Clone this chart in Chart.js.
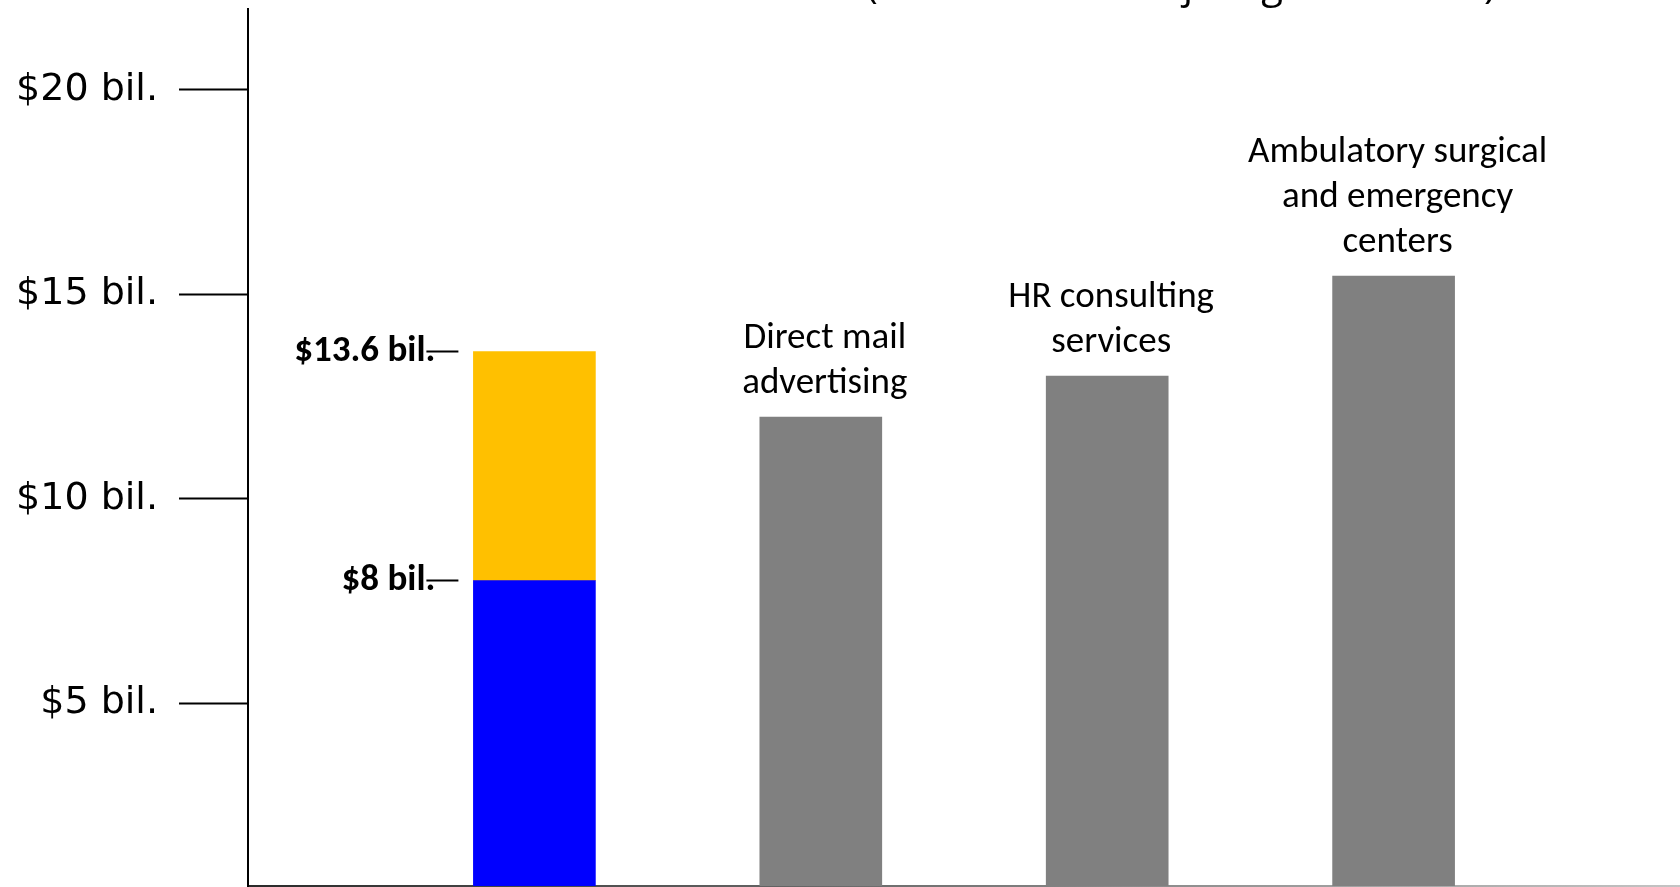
<!DOCTYPE html>
<html>
<head>
<meta charset="utf-8">
<script src="https://cdn.jsdelivr.net/npm/chart.js@4"></script>
<style>
  html, body { margin: 0; padding: 0; background: #fff; overflow: hidden; }
  canvas { display: block; }
</style>
</head>
<body>
<canvas id="grafico" width="1680" height="887"></canvas>
<script>
// Dados do gráfico
const categorias = [
  [],
  ["Direct mail", "advertising"],
  ["HR consulting", "services"],
  ["Ambulatory surgical", "and emergency", "centers"]
];
const valorBase = 8;       // parte azul da barra empilhada
const valorTotal = 13.6;   // topo da barra empilhada
const valoresCinza = [null, 12.0, 13.0, 15.45];
const ticksY = [5, 10, 15, 20];
const rotulosTicks = ["$5 bil.", "$10 bil.", "$15 bil.", "$20 bil."];
const rotulosPilha = ["$8 bil.", "$13.6 bil."];
// restos do título (só as descendentes aparecem no topo)
const fragmentosTitulo = [["(", 872], ["j", 1188], ["g", 1272], [")", 1490]];

// uma categoria vazia em cada ponta para espaçar as barras
const pad = arr => [null, ...arr, null];
const labelsX = ["", ...categorias.map(c => c.join(" ")), ""];

const canvas = document.getElementById("grafico");
const ctx = canvas.getContext("2d");

// linha de base que clareia para a direita
const gradienteBase = ctx.createLinearGradient(248, 0, 1680, 0);
gradienteBase.addColorStop(0, "#2a2a2a");
gradienteBase.addColorStop(1, "#c4c4c4");

const fonteCategoria = "Carlito, Calibri, Lato, sans-serif";

// tira o espaço extra que o Chart.js reserva para os rótulos
function semPadding(s) {
  s.paddingTop = 0;
  s.paddingBottom = 0;
  s.paddingLeft = 0;
  s.paddingRight = 0;
}

const rotulosPlugin = {
  id: "rotulos",
  afterDatasetsDraw(chart) {
    const c = chart.ctx;
    const y = chart.scales.y;
    c.save();

    // valores da barra empilhada, com tracinho
    const barra = chart.getDatasetMeta(0).data[1];
    const esq = barra.x - barra.width / 2;
    c.font = "bold 37px " + fonteCategoria;
    c.fillStyle = "#000";
    c.textAlign = "right";
    c.textBaseline = "middle";
    [valorBase, valorTotal].forEach((v, i) => {
      const py = y.getPixelForValue(v);
      c.fillText(rotulosPilha[i], esq - 38, py);
      c.beginPath();
      c.moveTo(esq - 47, py);
      c.lineTo(esq - 15, py);
      c.lineWidth = 2;
      c.strokeStyle = "#000";
      c.stroke();
    });

    // nomes das categorias acima das barras cinzas
    const meta = chart.getDatasetMeta(2);
    c.font = "37px " + fonteCategoria;
    c.textAlign = "center";
    categorias.forEach((linhas, i) => {
      if (!linhas.length) return;
      const b = meta.data[i + 1];
      linhas.forEach((txt, j) => {
        c.fillText(txt, b.x + 4, b.y - 33 - (linhas.length - 1 - j) * 45);
      });
    });

    // título cortado
    c.font = "40px 'Open Sans', sans-serif";
    c.textBaseline = "alphabetic";
    fragmentosTitulo.forEach(([t, x]) => c.fillText(t, x, -2));
    c.restore();
  }
};

new Chart(canvas, {
  type: "bar",
  data: {
    labels: labelsX,
    datasets: [
      {
        label: "Base",
        data: pad([valorBase, null, null, null]),
        backgroundColor: "#0000FF"
      },
      {
        label: "Adicional",
        data: pad([valorTotal - valorBase, null, null, null]),
        backgroundColor: "#FFC000"
      },
      {
        label: "Outros",
        data: pad(valoresCinza),
        backgroundColor: "#808080"
      }
    ]
  },
  options: {
    responsive: false,
    animation: false,
    devicePixelRatio: 1,
    layout: { padding: { top: 9, right: 0, bottom: 0, left: 0 } },
    plugins: {
      legend: { display: false },
      tooltip: { enabled: false }
    },
    datasets: { bar: { barThickness: 122 } },
    scales: {
      x: {
        stacked: true,
        offset: false,
        grid: { display: false },
        ticks: { display: false },
        border: { color: gradienteBase, width: 2 },
        afterFit: s => { s.height = 1; semPadding(s); }
      },
      y: {
        stacked: true,
        min: 0.53,
        max: 21.98,
        afterBuildTicks: s => { s.ticks = ticksY.map(v => ({ value: v })); },
        afterFit: s => { s.width = 248; semPadding(s); },
        grid: {
          drawOnChartArea: false,
          drawTicks: true,
          tickLength: 69,
          tickWidth: 2,
          tickColor: "#000"
        },
        border: { color: "#000", width: 2 },
        ticks: {
          padding: 21,
          color: "#000",
          font: { family: "'DejaVu Sans', sans-serif", size: 38 },
          callback: v => rotulosTicks[ticksY.indexOf(v)]
        }
      }
    }
  },
  plugins: [rotulosPlugin]
});
</script>
</body>
</html>
